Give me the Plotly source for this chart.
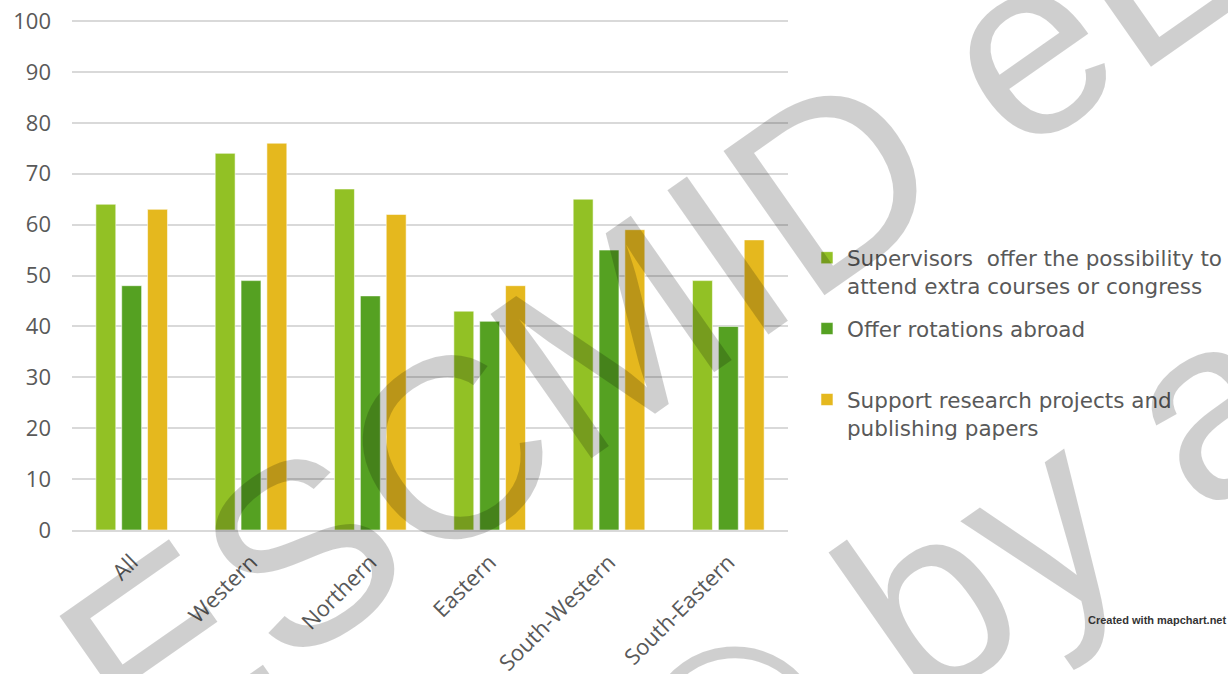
import plotly.graph_objects as go

regions = ["All", "Western", "Northern", "Eastern", "South-Western", "South-Eastern"]

courses = [64, 74, 67, 43, 65, 49]
rotations = [48, 49, 46, 41, 55, 40]
research = [63, 76, 62, 48, 59, 57]

series_names = [
    "Supervisors  offer the possibility to<br>attend extra courses or congress",
    "Offer rotations abroad<br>\u00a0",
    "Support research projects and<br>publishing papers",
]
series_colors = ["#92C125", "#55A122", "#E5B81E"]
y_ticks = [0, 10, 20, 30, 40, 50, 60, 70, 80, 90, 100]

TEXT = "#595959"
GRID = "#D9D9D9"

fig = go.Figure()
for name, vals, color in zip(series_names, [courses, rotations, research], series_colors):
    fig.add_trace(go.Bar(
        x=regions, y=vals, name=name, legendgroup=name,
        marker=dict(color=color, line=dict(color="rgba(255,255,255,0.55)", width=1)),
    ))

fig.update_layout(
    width=1228, height=674,
    margin=dict(l=72, r=440, t=19, b=144, autoexpand=False),
    paper_bgcolor="white", plot_bgcolor="white",
    barmode="group", bargap=0.35, bargroupgap=0.23,
    font=dict(family="Open Sans, Noto Sans, sans-serif", color=TEXT),
    legend=dict(
        x=1.0265, xanchor="left", y=0.573, yanchor="top",
        font=dict(family="DejaVu Sans, sans-serif", size=21.5, color=TEXT),
        valign="top", tracegroupgap=12, bgcolor="rgba(0,0,0,0)",
    ),
    xaxis=dict(
        tickangle=-45, tickfont=dict(size=22, color=TEXT),
        showline=True, linecolor=GRID, linewidth=1.5, ticks="",
        showgrid=False, automargin=False, ticklabelstandoff=9,
    ),
    yaxis=dict(
        range=[0, 100.4], tickvals=y_ticks, tickfont=dict(size=22, color=TEXT),
        showgrid=True, gridcolor=GRID, gridwidth=1.5, zeroline=False,
        showline=False, ticks="", ticklabelstandoff=20, automargin=False,
    ),
)

# diagonal library watermark drawn over the chart, one annotation per line
watermark_font = dict(family="Liberation Sans, Arial, sans-serif", size=256, color="rgba(0,0,0,0.19)")
fig.add_annotation(
    text="ESCMID eLibrary",
    xref="paper", yref="paper", x=(908 - 72) / 716, y=(530 - 128) / 511,
    xanchor="center", yanchor="middle", showarrow=False,
    textangle=-35, font=watermark_font,
)
fig.add_annotation(
    text="© by author",
    xref="paper", yref="paper", x=(1200 - 72) / 716, y=(530 - 410) / 511,
    xanchor="center", yanchor="middle", showarrow=False,
    textangle=-35, font=watermark_font,
)

fig.add_annotation(
    text="<b>Created with mapchart.net</b>",
    xref="paper", yref="paper", x=(1228 - 72) / 716, y=(530 - 620) / 511,
    xanchor="right", yanchor="middle", showarrow=False,
    font=dict(family="Liberation Sans, Arial, sans-serif", size=11, color="#333333"),
)

fig.write_html("out.html")
